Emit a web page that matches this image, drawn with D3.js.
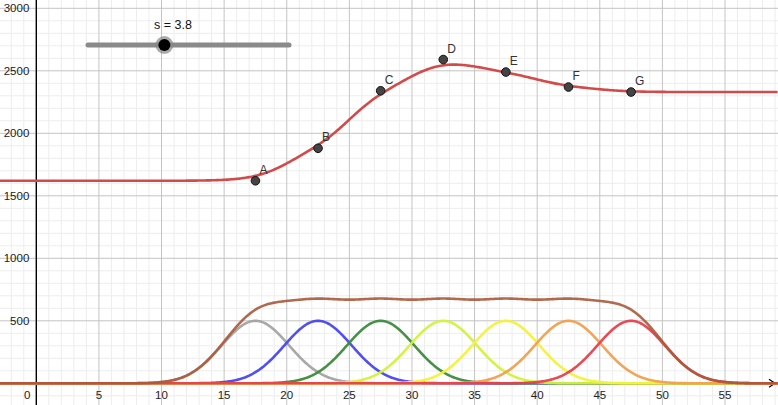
<!DOCTYPE html>
<html><head><meta charset="utf-8">
<script src="https://cdn.jsdelivr.net/npm/d3@7/dist/d3.min.js"></script>
<style>body{margin:0;background:#fff}svg{display:block}</style>
</head><body>
<svg id="c" width="778" height="405"></svg>
<script>
// ---- data ----
const pointLabels = ["A","B","C","D","E","F","G"];
const pointX = [17.5, 22.5, 27.5, 32.5, 37.5, 42.5, 47.5];
const pointY = [1620, 1880, 2340, 2590, 2490, 2370, 2330];
const bumpCenters = [17.5, 22.5, 27.5, 32.5, 37.5, 42.5, 47.5];
const bumpHeights = [500, 500, 500, 500, 500, 500, 500];
const bumpColors = ["#a3a3a3", "#4747f0", "#3d8a3d", "#d2f23c", "#f2f23c", "#f0a04e", "#e8404c"];
const sliderValue = 3.8;
const xTicks = [0, 5, 10, 15, 20, 25, 30, 35, 40, 45, 50, 55];
const yTicks = [500, 1000, 1500, 2000, 2500, 3000];

const W = 778, H = 405;
const x = d3.scaleLinear().domain([0, 55]).range([36.3, 725]);
const y = d3.scaleLinear().domain([0, 3000]).range([383.3, 8.3]);
const svg = d3.select("#c");

// grid
const xMin = x.invert(0), xMax = x.invert(W), yMin = y.invert(H), yMax = y.invert(0);
const minorX = d3.range(Math.ceil(xMin), Math.floor(xMax) + 1, 1);
const minorY = d3.range(Math.ceil(yMin / 100) * 100, yMax + 1, 100);
const g = svg.append("g");
g.selectAll(".mx").data(minorX.filter(v => v % 5 !== 0)).join("line")
  .attr("x1", d => x(d)).attr("x2", d => x(d)).attr("y1", 0).attr("y2", H)
  .attr("stroke", "#ededed").attr("stroke-width", 1);
g.selectAll(".my").data(minorY.filter(v => v % 500 !== 0)).join("line")
  .attr("y1", d => y(d)).attr("y2", d => y(d)).attr("x1", 0).attr("x2", W)
  .attr("stroke", "#ededed").attr("stroke-width", 1);
g.selectAll(".Mx").data(minorX.filter(v => v % 5 === 0 && v !== 0)).join("line")
  .attr("x1", d => x(d)).attr("x2", d => x(d)).attr("y1", 0).attr("y2", H)
  .attr("stroke", "#c4c4c4").attr("stroke-width", 1);
g.selectAll(".My").data(minorY.filter(v => v % 500 === 0 && v !== 0)).join("line")
  .attr("y1", d => y(d)).attr("y2", d => y(d)).attr("x1", 0).attr("x2", W)
  .attr("stroke", "#c4c4c4").attr("stroke-width", 1);

// axes
svg.append("line").attr("x1", x(0)).attr("x2", x(0)).attr("y1", 0).attr("y2", H)
  .attr("stroke", "#000").attr("stroke-width", 1.4);
svg.append("line").attr("x1", 0).attr("x2", W - 4).attr("y1", y(0)).attr("y2", y(0))
  .attr("stroke", "#000").attr("stroke-width", 1.4);
svg.append("path").attr("d", `M${W-9},${y(0)-4} L${W-3},${y(0)} L${W-9},${y(0)+4}`)
  .attr("fill", "none").attr("stroke", "#000").attr("stroke-width", 1.2);

const font = "Liberation Sans, Arial, sans-serif";
svg.selectAll(".xt").data(xTicks).join("text")
  .attr("x", d => d === 0 ? x(0) - 9 : x(d)).attr("y", y(0) + 16)
  .attr("text-anchor", "middle").attr("font-family", font).attr("font-size", 11.5)
  .attr("fill", "#222").text(d => d);
svg.selectAll(".yt").data(yTicks).join("text")
  .attr("x", x(0) - 7).attr("y", d => y(d) + 4)
  .attr("text-anchor", "end").attr("font-family", font).attr("font-size", 11.5)
  .attr("fill", "#222").text(d => d);

// curves
const s = sliderValue;
const samples = d3.range(xMin, xMax + 0.05, 0.1);
const bump = (i, t) => bumpHeights[i] * Math.exp(-Math.pow((t - bumpCenters[i]) / s, 2));
const line = d3.line().x(d => x(d[0])).y(d => y(d[1])).curve(d3.curveLinear);

bumpCenters.forEach((c, i) => {
  svg.append("path").datum(samples.map(t => [t, bump(i, t)])).attr("d", line)
    .attr("fill", "none").attr("stroke", bumpColors[i]).attr("stroke-width", 2.6)
    .attr("stroke-opacity", 0.95);
});

// sum curve (drawn above the bumps)
const sumData = samples.map(t => [t, d3.sum(bumpCenters, (c, i) => bump(i, t))]);
svg.append("path").datum(sumData).attr("d", line)
  .attr("fill", "none").attr("stroke", "#a85a3a").attr("stroke-width", 2.6)
  .attr("stroke-opacity", 0.9);

// weighted curve through A..G
const wData = samples.map(t => {
  let num = 0, den = 0;
  bumpCenters.forEach((c, i) => { const w = bump(i, t); num += w * pointY[i]; den += w; });
  return [t, den > 0 ? num / den : pointY[0]];
});
svg.append("path").datum(wData).attr("d", line)
  .attr("fill", "none").attr("stroke", "#d24b4b").attr("stroke-width", 2.6);

// points
svg.selectAll(".pt").data(pointX).join("circle")
  .attr("cx", d => x(d)).attr("cy", (d, i) => y(pointY[i])).attr("r", 4.3)
  .attr("fill", "#444").attr("stroke", "#111").attr("stroke-width", 1);
svg.selectAll(".pl").data(pointX).join("text")
  .attr("x", d => x(d) + 4).attr("y", (d, i) => y(pointY[i]) - 7)
  .attr("font-family", font).attr("font-size", 12).attr("fill", "#333")
  .text((d, i) => pointLabels[i]);

// slider
const sl = d3.scaleLinear().domain([0, 10]).range([88, 289]);
svg.append("line").attr("x1", sl(0)).attr("x2", sl(10)).attr("y1", 45).attr("y2", 45)
  .attr("stroke", "#8a8a8a").attr("stroke-width", 5).attr("stroke-linecap", "round");
svg.append("circle").attr("cx", sl(sliderValue)).attr("cy", 45).attr("r", 9)
  .attr("fill", "#888").attr("fill-opacity", 0.7);
svg.append("circle").attr("cx", sl(sliderValue)).attr("cy", 45).attr("r", 6)
  .attr("fill", "#000");
svg.append("text").attr("x", 154).attr("y", 29)
  .attr("font-family", font).attr("font-size", 12.5).attr("fill", "#111")
  .text("s = " + sliderValue);
</script>
</body></html>
